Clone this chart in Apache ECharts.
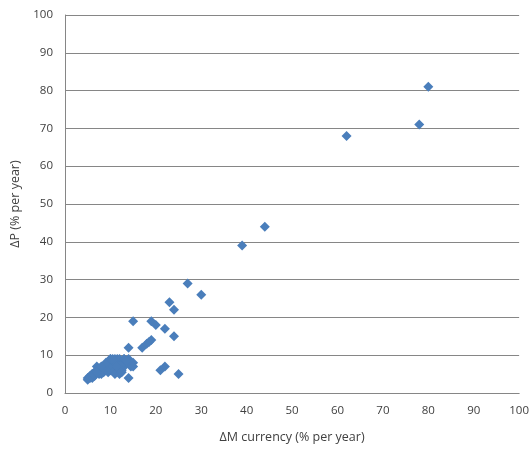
<!DOCTYPE html>
<html><head><meta charset="utf-8">
<script src="https://cdn.jsdelivr.net/npm/echarts@6/dist/echarts.min.js"></script>
<style>html,body{margin:0;padding:0;background:#fff}#c{width:532px;height:450px}</style>
</head><body><div id="c"></div>
<script>
const xTicks = [0,10,20,30,40,50,60,70,80,90,100];
const yTicks = [0,10,20,30,40,50,60,70,80,90,100];
const moneyGrowth = [80,78,62,44,39,27,30,23,24,15,19,20,24,22,17,18,18.5,19,14,21,22,25,14,
  5,5,5.5,5.5,6,6,6.5,6.5,7,7,7.5,7.5,8,8,8.5,8.5,9,9,9.5,9.5,10,10,10,10.5,10.5,11,11,11,11.5,11.5,12,12,12,12,12.5,12.5,13,13,13,14,14,14.5,15,15,9,8,10,11,12,13,6,7,10.5,11.5,12.5,13.5];
const inflation = [81,71,68,44,39,29,26,24,22,19,19,18,15,17,12,13,13.5,14,12,6,7,5,4,
  4,3.5,4.5,4,5,4,5.5,4.5,6,7,5,6.5,6,5,6.5,5.5,6,7,5.5,7.5,8,9,6,7,8.5,9,6,5,8,9,9,5,6,7,8,6,9,7,8,9,8,7,8,7,8,7,9,8,7,9,5,5.5,9,7,5.5,8.5];
const points = moneyGrowth.map((x,i)=>[x,inflation[i]]);
const chart = echarts.init(document.getElementById('c'));
const font = '"Open Sans", "Liberation Sans", sans-serif';
chart.setOption({
  animation:false,
  grid:{left:65,right:10,top:15,bottom:57},
  xAxis:{type:'value',min:0,max:100,interval:10,
    name:'ΔM currency (% per year)',nameLocation:'middle',nameGap:38,
    nameTextStyle:{color:'#404040',fontSize:12.5,fontFamily:font},
    axisLine:{lineStyle:{color:'#868686'}},axisTick:{show:false},
    axisLabel:{color:'#404040',fontSize:11.5,fontFamily:font,margin:12,formatter:v=>xTicks.includes(v)?String(v):''},
    splitLine:{show:false}},
  yAxis:{type:'value',min:0,max:100,interval:10,
    name:'ΔP (% per year)',nameLocation:'middle',nameGap:38,
    nameTextStyle:{color:'#404040',fontSize:12.5,fontFamily:font},
    axisLine:{show:true,lineStyle:{color:'#868686'}},axisTick:{show:false},
    axisLabel:{color:'#404040',fontSize:11.5,fontFamily:font,margin:12,formatter:v=>yTicks.includes(v)?String(v):''},
    splitLine:{lineStyle:{color:'#868686'}}},
  series:[{type:'scatter',data:points,symbol:'diamond',symbolSize:10,
    itemStyle:{color:'#4a7ebb',opacity:1}}]
});
</script></body></html>
